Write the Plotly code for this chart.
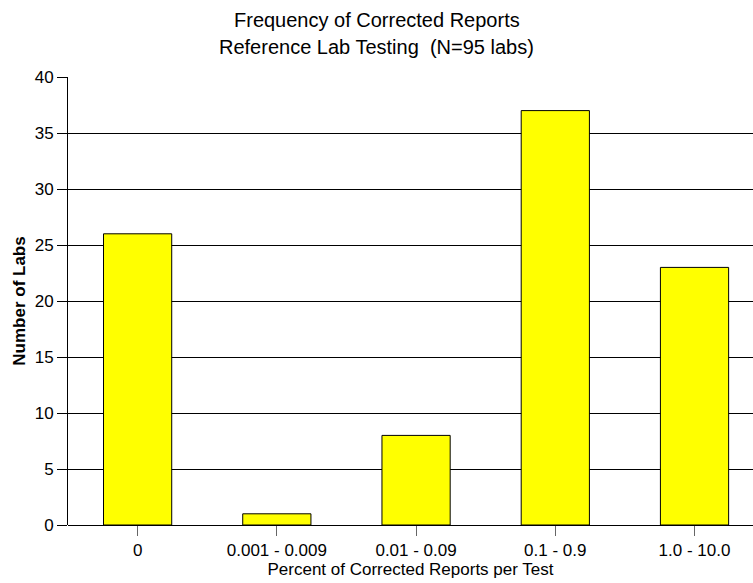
import plotly.graph_objects as go

categories = ["0", "0.001 - 0.009", "0.01 - 0.09", "0.1 - 0.9", "1.0 - 10.0"]
num_labs = [26, 1, 8, 37, 23]

FONT = "Liberation Sans, Arial, sans-serif"

W, H = 753, 583
ML, MR, MT, MB = 68, 0, 77, 58
PLOT_W = W - ML - MR
TITLE_X = (376.5 - ML) / PLOT_W

fig = go.Figure(
    go.Bar(
        x=categories,
        y=num_labs,
        width=0.49,
        marker=dict(color="#FFFF00", line=dict(color="black", width=1)),
        hoverinfo="skip",
    )
)

fig.update_layout(
    width=W,
    height=H,
    margin=dict(l=ML, r=MR, t=MT, b=MB),
    paper_bgcolor="white",
    plot_bgcolor="white",
    font=dict(family=FONT, size=17, color="black"),
    showlegend=False,
    annotations=[
        dict(text="Frequency of Corrected Reports", xref="paper", yref="paper",
             x=TITLE_X, y=1, yshift=57, showarrow=False,
             font=dict(size=20, family=FONT), xanchor="center", yanchor="middle"),
        dict(text="Reference Lab Testing  (N=95 labs)", xref="paper", yref="paper",
             x=TITLE_X, y=1, yshift=30, showarrow=False,
             font=dict(size=20, family=FONT), xanchor="center", yanchor="middle"),
    ],
)

fig.update_xaxes(
    type="category",
    range=[-0.5, 4.42],
    showgrid=False,
    showline=False,
    ticks="outside",
    ticklen=10,
    tickcolor="#666",
    tickfont=dict(size=17),
    title=dict(text="Percent of Corrected Reports per Test", font=dict(size=17), standoff=0),
)

fig.update_yaxes(
    range=[0, 40],
    dtick=5,
    showgrid=True,
    gridcolor="black",
    gridwidth=1,
    showline=True,
    linecolor="black",
    linewidth=1,
    ticks="outside",
    ticklen=10,
    tickcolor="black",
    tickfont=dict(size=17),
    zeroline=True,
    zerolinecolor="black",
    zerolinewidth=1,
    title=dict(text="<b>Number of Labs</b>", font=dict(size=17), standoff=4),
)

fig.write_html(
    "out.html",
    config={"displayModeBar": False},
    post_script="document.body.style.margin='0';document.body.style.overflow='hidden';",
)
